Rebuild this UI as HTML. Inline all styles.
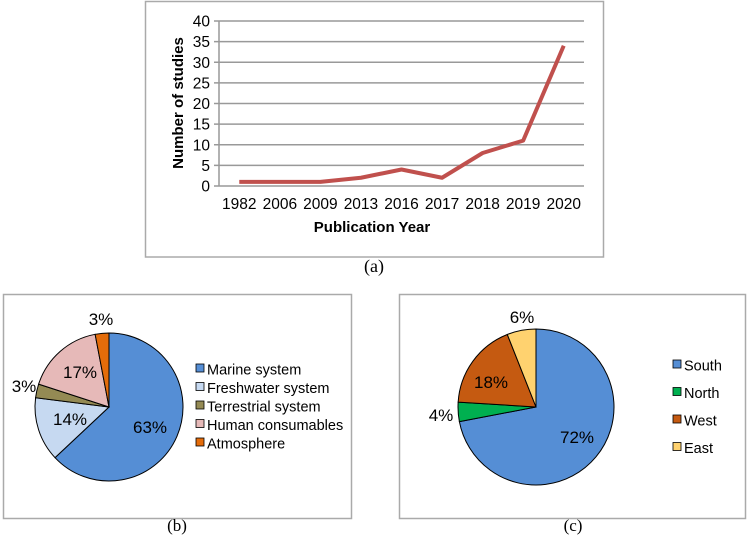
<!DOCTYPE html>
<html><head><meta charset="utf-8"><style>
body{margin:0;background:#fff;width:749px;height:543px;overflow:hidden;font-family:"Liberation Sans",sans-serif}
svg{display:block}
</style></head><body>
<svg width="749" height="543" xmlns="http://www.w3.org/2000/svg" font-family="Liberation Sans, sans-serif">
<g id="chartA">
<rect x="145.5" y="1.5" width="458" height="255.5" fill="#fff" stroke="#aaa" stroke-width="1.5"/>
<g id="gridA"></g>
<text x="372" y="232" font-size="15" font-weight="bold" text-anchor="middle">Publication Year</text>
<text transform="translate(183,103) rotate(-90)" text-anchor="middle" font-size="15" font-weight="bold">Number of studies</text>
</g>
<text x="374" y="272" font-size="18" text-anchor="middle" font-family="Liberation Serif, serif">(a)</text>
<rect x="3.5" y="294.5" width="348" height="224" fill="#fff" stroke="#aaa" stroke-width="1.5"/>
<rect x="399.5" y="294.5" width="346" height="224" fill="#fff" stroke="#aaa" stroke-width="1.5"/>
<g id="pieB"></g><g id="pieC"></g>
<text x="177" y="531" font-size="17" text-anchor="middle" font-family="Liberation Serif, serif">(b)</text>
<text x="573" y="531" font-size="17" text-anchor="middle" font-family="Liberation Serif, serif">(c)</text>
</svg>
<script>
const years=["1982","2006","2009","2013","2016","2017","2018","2019","2020"];
const studies=[1,1,1,2,4,2,8,11,34];
const yTicks=[0,5,10,15,20,25,30,35,40];
const catB=["Marine system","Freshwater system","Terrestrial system","Human consumables","Atmosphere"];
const valB=[63,14,3,17,3];
const catC=["South","North","West","East"];
const valC=[72,4,18,6];
const NS="http://www.w3.org/2000/svg";
function mk(t,a,p){const e=document.createElementNS(NS,t);for(const k in a)e.setAttribute(k,a[k]);p.appendChild(e);return e;}
const gA=document.getElementById('gridA');
const x0=219,x1=584,yB=186,yT=21;
const ys=v=>yB-(v/40)*(yB-yT);
const step=(x1-x0)/years.length;
const xs=i=>x0+step*(i+0.5);
yTicks.forEach(t=>{
 const l=mk('line',{x1:x0-5,x2:x1,y1:ys(t),y2:ys(t),stroke:'#999','stroke-width':1.5},gA);
 
 
 const tx=mk('text',{x:x0-9,y:ys(t)+5.5,'font-size':15.5,'text-anchor':'end'},gA);tx.textContent=t;
 
 
});
mk('line',{x1:x0,x2:x0,y1:yT,y2:yB,stroke:'#999','stroke-width':1.5},gA);
years.forEach((y,i)=>{
 const tx=mk('text',{x:xs(i),y:209,'font-size':15.5,'text-anchor':'middle'},gA);tx.textContent=y;
 
 
});
const pl=mk('polyline',{points:studies.map((v,i)=>xs(i)+','+ys(v)).join(' '),fill:'none',stroke:'#c0504d','stroke-width':4,'stroke-linejoin':'round'},gA);



function pie(g,cx,cy,r,cats,vals,cols,labels,leg){
 const tot=vals.reduce((a,b)=>a+b,0);let a=0;
 vals.forEach((v,i)=>{
  const a0=a,a1=a+v/tot*2*Math.PI;a=a1;
  const p=(t)=>[cx+r*Math.sin(t),cy-r*Math.cos(t)];
  const [sx,sy]=p(a0),[ex,ey]=p(a1);
  const s=mk('path',{d:`M${cx},${cy}L${sx},${sy}A${r},${r} 0 ${a1-a0>Math.PI?1:0} 1 ${ex},${ey}Z`,fill:cols[i],stroke:'#000','stroke-width':1},g);
  
  
  const tx=mk('text',{x:labels[i][0],y:labels[i][1],'font-size':17,'text-anchor':'middle'},g);tx.textContent=v+'%';
  
  
  const ly=leg.y0+leg.dy*i;
  const b=mk('rect',{x:leg.x,y:ly-5,width:8,height:8,fill:cols[i],stroke:'#000','stroke-width':0.8},g);
  
  
  const lt=mk('text',{x:leg.x+11,y:ly+5.5,'font-size':14.5},g);lt.textContent=cats[i];
  
  
 });
}
pie(document.getElementById('pieB'),109,407,74,catB,valB,['#558ed5','#c6d9f1','#948a54','#e6b9b8','#e46c0a'],
 [[150,433],[70,425],[24,392],[80,378],[101,325]],{x:196,y0:369,dy:18.5});
pie(document.getElementById('pieC'),536,407,78,catC,valC,['#558ed5','#00b050','#c55a11','#ffd26f'],
 [[577,443],[441,421],[491,388],[522,323]],{x:673,y0:365,dy:27.5});
</script>
</body></html>
